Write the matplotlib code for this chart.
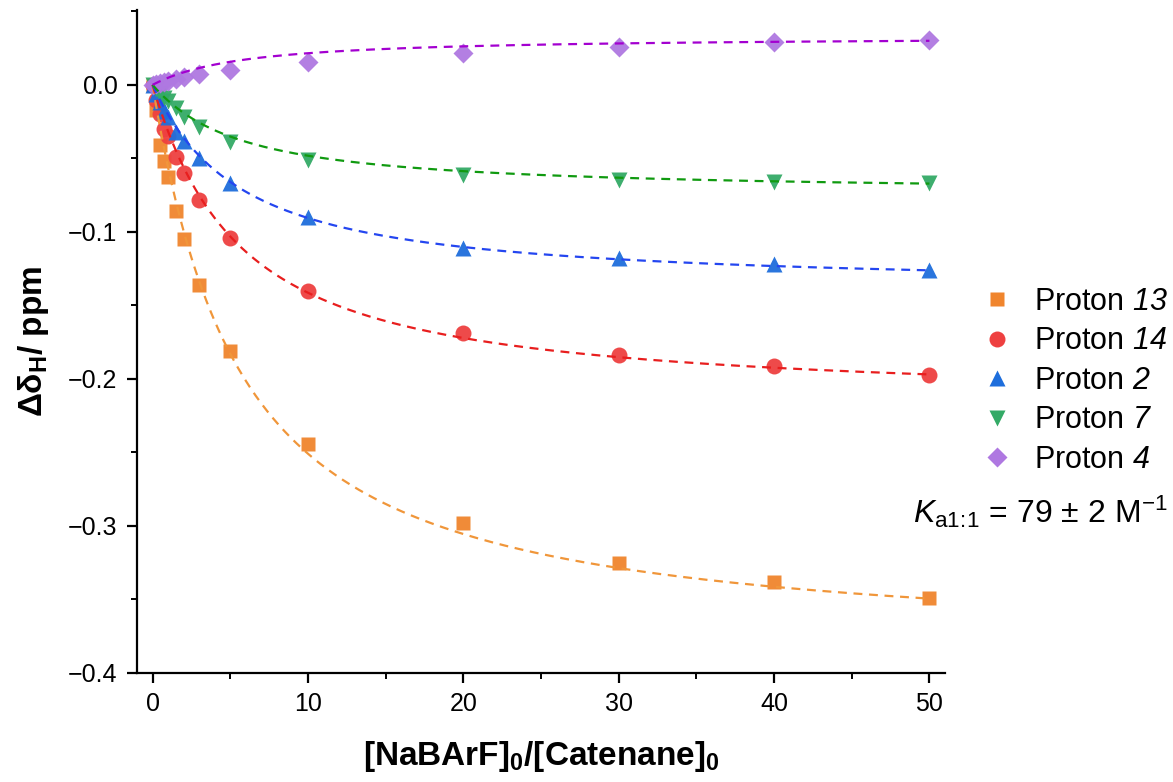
import numpy as np
import matplotlib
matplotlib.use("Agg")
import matplotlib.pyplot as plt
from matplotlib.lines import Line2D
from matplotlib.ticker import MultipleLocator

plt.rcParams['font.family'] = ['Liberation Sans', 'DejaVu Sans']
plt.rcParams['mathtext.fontset'] = 'custom'
plt.rcParams['mathtext.rm'] = 'Liberation Sans'
plt.rcParams['mathtext.it'] = 'Liberation Sans:italic'
plt.rcParams['mathtext.bf'] = 'Liberation Sans:bold'
# italic digits: mathtext sends non-letters in \mathit to rm, so use sf slot
plt.rcParams['mathtext.sf'] = 'Liberation Sans:italic'

# equivalents of NaBArF added
ratio = [0, 0.25, 0.5, 0.75, 1, 1.5, 2, 3, 5, 10, 20, 30, 40, 50]

# observed shifts (ppm)
proton13 = [0, -0.017, -0.041, -0.052, -0.063, -0.086, -0.105, -0.136, -0.181, -0.244, -0.298, -0.325, -0.338, -0.349]
proton14 = [0, -0.010, -0.020, -0.030, -0.035, -0.049, -0.060, -0.078, -0.104, -0.140, -0.169, -0.184, -0.191, -0.197]
proton2 = [0, -0.006, -0.012, -0.018, -0.022, -0.032, -0.038, -0.050, -0.067, -0.090, -0.111, -0.118, -0.122, -0.126]
proton7 = [0, -0.003, -0.006, -0.009, -0.011, -0.016, -0.022, -0.029, -0.039, -0.051, -0.061, -0.065, -0.066, -0.067]
proton4 = [0, 0.0008, 0.0015, 0.002, 0.0028, 0.0038, 0.0052, 0.0072, 0.0102, 0.0158, 0.0215, 0.0257, 0.0289, 0.0306]

# 1:1 fit parameters: limiting shifts and 1/(Ka*[H]0)
dd_max = [-0.385, -0.217, -0.139, -0.074, 0.0330]
inv_kh = 5.0

labels = [r'Proton $\mathsf{13}$', r'Proton $\mathsf{14}$', r'Proton $\mathsf{2}$',
          r'Proton $\mathsf{7}$', r'Proton $\mathsf{4}$']
markers = ['s', 'o', '^', 'v', 'D']
mcolors = ['#F0852D', '#EE4040', '#1E6EDC', '#33AA66', '#AF78E1']
lcolors = ['#F0963A', '#E81E1E', '#2446F0', '#109A10', '#A300D0']
msizes = [10.5, 11.5, 11.5, 11.5, 10]

series = [proton13, proton14, proton2, proton7, proton4]


def bound_fraction(r, a):
    s = 1 + r + a
    return (s - np.sqrt(s ** 2 - 4 * r)) / 2


fig = plt.figure(figsize=(11.73, 7.82), dpi=100)
ax = fig.add_axes([0.1168, 0.1394, 0.6888, 0.848])

xf = np.linspace(0, 50, 400)
for y, m, mc, ms, lab in zip(series, markers, mcolors, msizes, labels):
    ax.plot(ratio, y, ls='none', marker=m, ms=ms, color=mc, mec='none', alpha=0.95, zorder=2, label=lab)
for lc, dm in zip(lcolors, dd_max):
    ax.plot(xf, dm * bound_fraction(xf, inv_kh), ls=(0, (4, 3)), lw=1.6, color=lc, zorder=3)

ax.set_xlim(-1, 51)
ax.set_ylim(-0.4, 0.051)
ax.xaxis.set_major_locator(MultipleLocator(10))
ax.xaxis.set_minor_locator(MultipleLocator(5))
ax.yaxis.set_minor_locator(MultipleLocator(0.05))
ax.set_yticks([0.0, -0.1, -0.2, -0.3, -0.4])
ax.set_yticklabels(['0.0', '\u22120.1', '\u22120.2', '\u22120.3', '\u22120.4'])

for s in ['top', 'right']:
    ax.spines[s].set_visible(False)
for s in ['left', 'bottom']:
    ax.spines[s].set_linewidth(1.6)
ax.tick_params(which='major', direction='out', length=7, width=1.6, labelsize=18, pad=7)
ax.tick_params(which='minor', direction='out', length=4, width=1.4)

ax.set_xlabel(r'[NaBArF]$_\mathbf{0}$/[Catenane]$_\mathbf{0}$', fontsize=24, fontweight='bold', labelpad=16)
ax.set_ylabel(r'$\mathbf{\Delta\delta_H}$/ ppm', fontsize=24, fontweight='bold', labelpad=12)

handles = [Line2D([], [], ls='none', marker=m, ms=ms, color=mc, mec='none')
           for m, mc, ms in zip(markers, mcolors, msizes)]
fig.legend(handles, labels, loc='upper left', bbox_to_anchor=(0.837, 0.633), frameon=False,
           fontsize=22, handletextpad=0.7, labelspacing=0.31, handlelength=1.0,
           borderpad=0, borderaxespad=0)

fig.text(0.995, 0.331, r'$\mathit{K}_{\mathrm{a1}\!:\!\mathrm{1}}$ = 79 $\pm$ 2 M$^{\mathrm{-1}}$',
         fontsize=23, ha='right', va='baseline')

fig.savefig('out.png', dpi=100)
